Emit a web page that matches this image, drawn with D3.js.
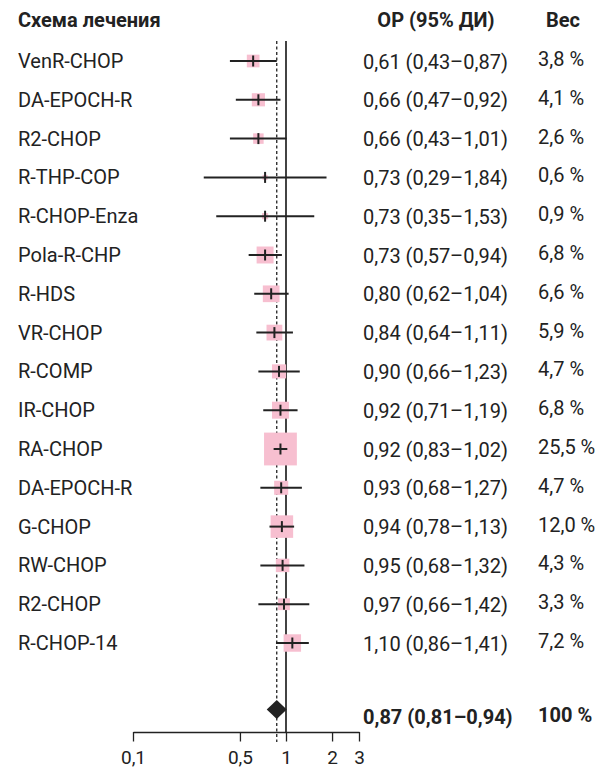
<!DOCTYPE html>
<html><head><meta charset="utf-8">
<script src="https://cdn.jsdelivr.net/npm/d3@7"></script>
<style>
body{margin:0;background:#fff;}
text{font-family:Roboto,"Noto Sans",sans-serif;fill:#222;}
</style></head>
<body>
<svg id="c" width="610" height="769"></svg>
<script>
const regimens = ["VenR-CHOP","DA-EPOCH-R","R2-CHOP","R-THP-COP","R-CHOP-Enza","Pola-R-CHP","R-HDS","VR-CHOP","R-COMP","IR-CHOP","RA-CHOP","DA-EPOCH-R","G-CHOP","RW-CHOP","R2-CHOP","R-CHOP-14"];
const hr    = [0.61,0.66,0.66,0.73,0.73,0.73,0.80,0.84,0.90,0.92,0.92,0.93,0.94,0.95,0.97,1.10];
const lower = [0.43,0.47,0.43,0.29,0.35,0.57,0.62,0.64,0.66,0.71,0.83,0.68,0.78,0.68,0.66,0.86];
const upper = [0.87,0.92,1.01,1.84,1.53,0.94,1.04,1.11,1.23,1.19,1.02,1.27,1.13,1.32,1.42,1.41];
const weights = [3.8,4.1,2.6,0.6,0.9,6.8,6.6,5.9,4.7,6.8,25.5,4.7,12.0,4.3,3.3,7.2];
const pooledHR = 0.87, pooledLower = 0.81, pooledUpper = 0.94, pooledWeight = 100;
const axisTicks = [0.1,0.5,1,2,3];
const headers = ["Схема лечения","ОР (95% ДИ)","Вес"];

const fmt = v => v.toFixed(2).replace(".", ",");
const fmtW = v => v.toFixed(1).replace(".", ",") + " %";
const fmtTick = v => String(v).replace(".", ",");

const svg = d3.select("#c");
const x = d3.scaleLog().domain([0.1,3]).range([133,359]);
const y = d3.scalePoint().domain(d3.range(regimens.length)).range([61,643]);
const ySum = 709.5, yAxis = 732, yTop = 41;
const boxK = 6.5;
const rows = d3.range(regimens.length).map(i=>({i,name:regimens[i],hr:hr[i],lo:lower[i],hi:upper[i],w:weights[i]}));
const FS = 20;

// headers
svg.append("text").attr("x",18).attr("y",27).attr("font-size",FS).attr("font-weight",700).text(headers[0]);
svg.append("text").attr("x",436).attr("y",27).attr("text-anchor","middle").attr("font-size",FS).attr("font-weight",700).text(headers[1]);
svg.append("text").attr("x",546).attr("y",27).attr("font-size",FS).attr("font-weight",700).text(headers[2]);

// reference lines
svg.append("line").attr("x1",x(1)).attr("x2",x(1)).attr("y1",yTop).attr("y2",yAxis)
  .attr("stroke","#222").attr("stroke-width",1.7);
svg.append("line").attr("x1",x(pooledHR)).attr("x2",x(pooledHR)).attr("y1",yTop).attr("y2",yAxis+10)
  .attr("stroke","#222").attr("stroke-width",1.3).attr("stroke-dasharray","3,2.5");

// boxes
svg.append("g").selectAll("rect").data(rows).join("rect")
  .attr("x",d=>x(d.hr)-boxK*Math.sqrt(d.w)/2)
  .attr("y",d=>y(d.i)-boxK*Math.sqrt(d.w)/2)
  .attr("width",d=>boxK*Math.sqrt(d.w))
  .attr("height",d=>boxK*Math.sqrt(d.w))
  .attr("fill","#f7bfd0");
// CI lines
svg.append("g").selectAll("line").data(rows).join("line")
  .attr("x1",d=>x(d.lo)).attr("x2",d=>x(d.hi))
  .attr("y1",d=>y(d.i)).attr("y2",d=>y(d.i))
  .attr("stroke","#222").attr("stroke-width",2);
// point ticks
svg.append("g").selectAll("line").data(rows).join("line")
  .attr("x1",d=>x(d.hr)).attr("x2",d=>x(d.hr))
  .attr("y1",d=>y(d.i)-5.5).attr("y2",d=>y(d.i)+5.5)
  .attr("stroke","#222").attr("stroke-width",2);

// labels
svg.append("g").selectAll("text").data(rows).join("text")
  .attr("x",18).attr("y",d=>y(d.i)+7).attr("font-size",FS).text(d=>d.name);
svg.append("g").selectAll("text").data(rows).join("text")
  .attr("x",363).attr("y",d=>y(d.i)+7.5).attr("font-size",FS)
  .text(d=>`${fmt(d.hr)} (${fmt(d.lo)}–${fmt(d.hi)})`);
svg.append("g").selectAll("text").data(rows).join("text")
  .attr("x",538).attr("y",d=>y(d.i)+5).attr("font-size",FS).text(d=>fmtW(d.w));

// pooled diamond
const dx = x(pooledHR);
svg.append("path").attr("d",`M${dx-10},${ySum} L${dx},${ySum-9.5} L${dx+10},${ySum} L${dx},${ySum+9.5} Z`).attr("fill","#222");
svg.append("text").attr("x",363).attr("y",724).attr("font-size",FS).attr("font-weight",700)
  .text(`${fmt(pooledHR)} (${fmt(pooledLower)}–${fmt(pooledUpper)})`);
svg.append("text").attr("x",538).attr("y",722).attr("font-size",FS).attr("font-weight",700)
  .text(pooledWeight + " %");

// axis
const ax = svg.append("g").attr("transform",`translate(0,${yAxis})`)
  .call(d3.axisBottom(x).tickValues(axisTicks).tickFormat(fmtTick).tickSize(9.5).tickSizeOuter(0));
ax.select(".domain").attr("stroke","#222").attr("stroke-width",1.3);
ax.selectAll(".tick line").attr("stroke","#222").attr("stroke-width",1.3);
ax.selectAll(".tick text").attr("font-size",19).attr("font-family","Roboto").attr("fill","#222").attr("dy","1.05em");
</script>
</body></html>
